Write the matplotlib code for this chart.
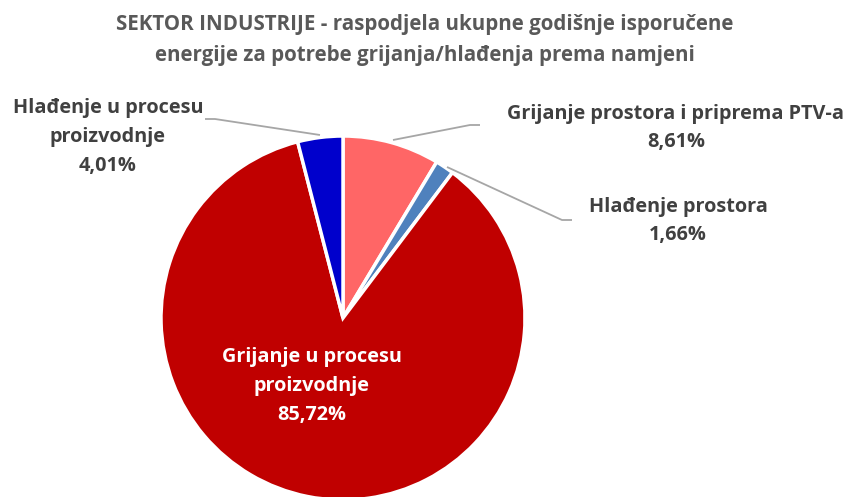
import matplotlib
matplotlib.use("Agg")
import matplotlib.pyplot as plt

title = "SEKTOR INDUSTRIJE - raspodjela ukupne godišnje isporučene\nenergije za potrebe grijanja/hlađenja prema namjeni"
categories = ["Grijanje prostora i priprema PTV-a", "Hlađenje prostora",
              "Grijanje u procesu proizvodnje", "Hlađenje u procesu proizvodnje"]
values = [8.61, 1.66, 85.72, 4.01]
value_labels = ["8,61%", "1,66%", "85,72%", "4,01%"]
label_lines = ["Grijanje prostora i priprema PTV-a", "Hlađenje prostora",
               "Grijanje u procesu\nproizvodnje", "Hlađenje u procesu\nproizvodnje"]
colors = ["#FF6666", "#4F81BD", "#C00000", "#0000CC"]

W, H = 850, 497
fig = plt.figure(figsize=(W / 100, H / 100), dpi=100)
ax = fig.add_axes([0, 0, 1, 1])
cx, cy, r = 343, H - 318, 182
ax.pie(values, colors=colors, startangle=90, counterclock=False,
       center=(cx, cy), radius=r,
       wedgeprops=dict(edgecolor="white", linewidth=2.5))
ax.set_xlim(0, W)
ax.set_ylim(0, H)
ax.set_aspect("equal")
ax.axis("off")

font = ["Open Sans", "DejaVu Sans"]
fig.text(0.5, 1 - 40 / H, title, ha="center", va="center", fontsize=14.8,
         fontweight="bold", color="#595959", family=font, linespacing=1.6)

lab_color = "#404040"
fs = 14.3
# label positions in pixel coordinates (x, y from top)
pos = [(676, 128), (678, 221), (312, 386), (108, 137)]
txt_colors = [lab_color, lab_color, "white", lab_color]
for (x, y), lab, val, c in zip(pos, label_lines, value_labels, txt_colors):
    ax.text(x, H - y, lab + "\n" + val, ha="center", va="center",
            fontsize=fs, fontweight="bold", color=c, family=font,
            linespacing=1.58)

# leader lines
lc = "#A6A6A6"
leaders = [
    [(393, 140), (470, 125), (480, 125)],
    [(447, 167), (562, 220), (572, 220)],
    [(205, 119), (215, 119), (320, 135)],
]
for pts in leaders:
    xs = [p[0] for p in pts]
    ys = [H - p[1] for p in pts]
    ax.plot(xs, ys, color=lc, lw=1.3, solid_capstyle="butt")

fig.savefig("out.png", dpi=100)
